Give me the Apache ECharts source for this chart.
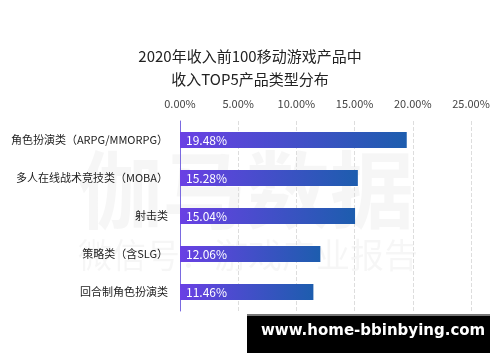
<!DOCTYPE html>
<html><head><meta charset="utf-8">
<script src="https://cdn.jsdelivr.net/npm/echarts@6/dist/echarts.min.js"></script>
<style>html,body{margin:0;padding:0;background:#fff}#c{width:500px;height:362px}</style>
</head><body><div id="c"></div>
<script>
const categories = ['角色扮演类（ARPG/MMORPG）','多人在线战术竞技类（MOBA）','射击类','策略类（含SLG）','回合制角色扮演类'];
const values = [19.48, 15.28, 15.04, 12.06, 11.46];
const axisTicks = [0, 5, 10, 15, 20, 25];
const titleText = '2020年收入前100移动游戏产品中\n收入TOP5产品类型分布';
const watermark = 'www.home-bbinbying.com';

const chart = echarts.init(document.getElementById('c'));
chart.setOption({
  animation: false,
  title: {
    text: titleText, left: 'center', top: 40,
    textStyle: {fontFamily: 'Noto Sans CJK SC', fontSize: 15, fontWeight: 'normal', color: '#222', lineHeight: 23}
  },
  grid: {left: 180, right: 29, top: 121, bottom: 51},
  xAxis: {
    type: 'value', position: 'top', min: axisTicks[0], max: axisTicks[axisTicks.length-1], interval: 5,
    axisLine: {show: false}, axisTick: {show: false},
    axisLabel: {formatter: v => v.toFixed(2) + '%', color: '#444', fontSize: 11, fontFamily: 'Noto Sans CJK SC', margin: 12},
    splitLine: {show: true, lineStyle: {type: 'dashed', color: '#ddd'}}
  },
  yAxis: {
    type: 'category', data: categories, inverse: true,
    axisLine: {show: true, lineStyle: {color: '#7a6ae0', width: 1}},
    axisTick: {show: false},
    axisLabel: {color: '#222', fontSize: 11, fontFamily: 'Noto Sans CJK SC', margin: 12}
  },
  series: [{
    type: 'bar', data: values, barWidth: 16,
    itemStyle: {color: new echarts.graphic.LinearGradient(0, 0, 1, 0, [
      {offset: 0, color: '#6a40e4'}, {offset: 1, color: '#1d5dae'}
    ])},
    label: {show: true, position: 'insideLeft', formatter: p => p.value.toFixed(2) + '%', color: '#fff', fontSize: 12, fontFamily: 'Noto Sans CJK SC', distance: 6}
  }],
  graphic: [
    {type: 'text', left: 78, top: 148, z: 0, style: {text: '伽马数据', fill: 'rgba(0,0,0,0.035)', font: 'bold 84px "Noto Sans CJK SC"'}},
    {type: 'text', left: 78, top: 238, z: 0, style: {text: '微信号：游戏产业报告', fill: 'rgba(0,0,0,0.035)', font: '34px "Noto Sans CJK SC"'}},
    {type: 'rect', left: 247, top: 314, z: 100, shape: {width: 243, height: 39}, style: {fill: '#000'}},
    {type: 'rect', left: 247, top: 314, z: 101, shape: {width: 243, height: 2}, style: {fill: '#777'}},
    {type: 'text', left: 261, top: 324, z: 102, style: {text: watermark, fill: '#fff', font: 'bold 15px "DejaVu Sans"'}}
  ]
});
</script></body></html>
